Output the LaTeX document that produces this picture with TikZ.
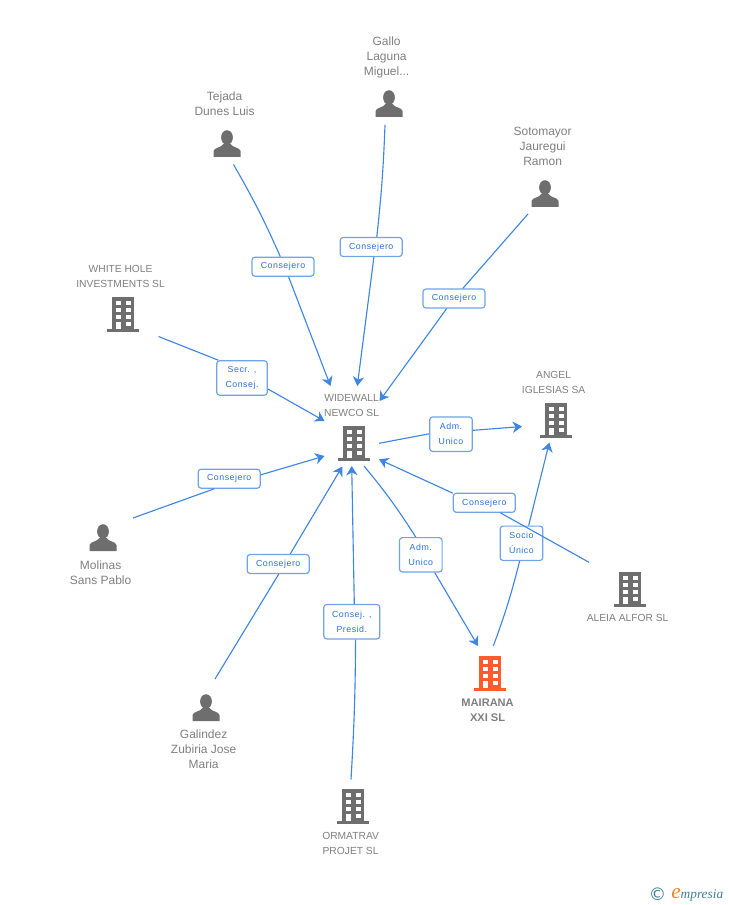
\documentclass[tikz,border=0pt]{standalone}
\usepackage{fontspec}
\setmainfont{Liberation Sans}
\newfontfamily\lblfont[LetterSpace=6]{Liberation Sans}
\newfontfamily\symfont{DejaVu Sans}
\newfontfamily\logofont{Liberation Serif}
\usetikzlibrary{arrows.meta,positioning}
\definecolor{linkblue}{HTML}{3F85E2}
\definecolor{boxblue}{HTML}{6FA3EA}
\definecolor{textblue}{HTML}{2A72D8}
\definecolor{icongray}{HTML}{6E6E6E}
\definecolor{namegray}{HTML}{7F7F7F}
\definecolor{mainorange}{HTML}{FF5C2E}
\definecolor{logoteal}{HTML}{3F7F96}
\definecolor{logoorange}{HTML}{F58220}

\begin{document}
\begin{tikzpicture}[
    x=0.75pt, y=-0.75pt,
    bldgnode/.style={rectangle, minimum width=24pt, minimum height=26pt, inner sep=0pt},
    persnode/.style={rectangle, minimum width=21pt, minimum height=21pt, inner sep=0pt},
    persname/.style={align=center, text=namegray, inner sep=0pt, xshift=-1.8pt, font=\fontsize{9}{11.25}\selectfont},
    compname/.style={align=center, text=namegray, inner sep=0pt, xshift=-1.8pt, font=\fontsize{7.7}{11.25}\selectfont},
    mainname/.style={align=center, text=namegray, inner sep=0pt, xshift=-1.8pt, font=\bfseries\fontsize{8.3}{11.25}\selectfont},
    rolebox/.style={rectangle, rounded corners=2.2pt, draw=boxblue, line width=0.9pt, fill=white, text=textblue, align=center, inner sep=0pt, minimum height=14.25pt, font=\lblfont\fontsize{6.6}{11.25}\selectfont},
    onerole/.style={rolebox, minimum width=46.5pt},
    tworole/.style={rolebox, minimum width=32pt, minimum height=25.8pt},
    link/.style={draw=linkblue, line width=0.85pt},
    arrow/.style={link, -{Stealth[length=7pt,width=8.5pt,inset=2.2pt]}},
    bldg/.pic={
        \fill[#1] (-11,-17) rectangle (11,16);
        \fill[#1] (-16,15) rectangle (16,18);
        \fill[white] (-7.5,-13) rectangle (-2.5,-9);
        \fill[white] (2.5,-13) rectangle (7.5,-9);
        \fill[white] (-7.5,-6) rectangle (-2.5,-2);
        \fill[white] (2.5,-6) rectangle (7.5,-2);
        \fill[white] (-7.5,1) rectangle (-2.5,5);
        \fill[white] (2.5,1) rectangle (7.5,5);
        \fill[white] (-7,8) rectangle (-2.5,15);
        \fill[white] (2.5,8) rectangle (7.5,12);
    },
    pers/.pic={
        \fill[icongray] (0,-6.5) ellipse (5.9 and 7.3);
        \fill[icongray] (-13.5,13) -- (-13.5,7) .. controls (-13,3.5) and (-5,3.5) .. (-3.5,0) -- (3.5,0) .. controls (5,3.5) and (13,3.5) .. (13.5,7) -- (13.5,13) -- cycle;
    }
]
\useasboundingbox (0,0) rectangle (728,905);

% Centre company
\node[bldgnode] (widewall) at (354,443) {};
\pic at (widewall) {bldg=icongray};
\node[compname, above=6.5pt of widewall] (widewalltext) {WIDEWALL\\NEWCO SL};

% Main company
\node[bldgnode] (mairana) at (490,673) {};
\pic at (mairana) {bldg=mainorange};
\node[mainname, below=5.7pt of mairana] (mairanatext) {MAIRANA\\XXI SL};

% Other companies
\node[bldgnode] (whitehole) at (123,314) {};
\pic at (whitehole) {bldg=icongray};
\node[compname, above=6.7pt of whitehole] (whiteholetext) {WHITE HOLE\\INVESTMENTS SL};

\node[bldgnode] (angel) at (556,420) {};
\pic at (angel) {bldg=icongray};
\node[compname, above=6.3pt of angel] (angeltext) {ANGEL\\IGLESIAS SA};

\node[bldgnode] (aleia) at (630,589) {};
\pic at (aleia) {bldg=icongray};
\node[compname, below=5.7pt of aleia] (aleiatext) {ALEIA ALFOR SL};

\node[bldgnode] (ormatrav) at (353,806) {};
\pic at (ormatrav) {bldg=icongray};
\node[compname, below=6.5pt of ormatrav] (ormatravtext) {ORMATRAV\\PROJET SL};

% People
\node[persnode] (gallo) at (389,104) {};
\pic at (gallo) {pers};
\node[persname, above=8.5pt of gallo] (gallotext) {Gallo\\Laguna\\Miguel...};

\node[persnode] (tejada) at (227,144) {};
\pic at (tejada) {pers};
\node[persname, above=10.7pt of tejada] (tejadatext) {Tejada\\Dunes Luis};

\node[persnode] (sotomayor) at (545,194) {};
\pic at (sotomayor) {pers};
\node[persname, above=10.7pt of sotomayor] (sotomayortext) {Sotomayor\\Jauregui\\Ramon};

\node[persnode] (molinas) at (103,538) {};
\pic at (molinas) {pers};
\node[persname, below=6.2pt of molinas] (molinastext) {Molinas\\Sans Pablo};

\node[persnode] (galindez) at (206,708) {};
\pic at (galindez) {pers};
\node[persname, below=5.5pt of galindez] (galindeztext) {Galindez\\Zubiria Jose\\Maria};

% Roles
\node[onerole] (rolegallo) at (371.2,247) {Consejero};
\node[onerole] (roletejada) at (283,266.7) {Consejero};
\node[onerole] (rolesoto) at (454,298.5) {Consejero};
\node[tworole, minimum width=38pt] (rolewhite) at (242,378) {Secr. ,\\Consej.};
\node[onerole] (rolemolinas) at (229.2,478.7) {Consejero};
\node[onerole] (rolegalindez) at (278.2,564) {Consejero};
\node[tworole, minimum width=42pt] (roleorma) at (351.8,621.7) {Consej. ,\\Presid.};
\node[tworole] (roleangel) at (451,434.2) {Adm.\\Unico};
\node[tworole] (rolemairana) at (420.8,554.8) {Adm.\\Unico};
\node[tworole] (rolesocio) at (521.5,543.3) {Socio\\Único};
\node[onerole] (rolealeia) at (484.3,502.8) {Consejero};

% Free ends
\coordinate (galloout) at (385,125);
\coordinate (galloin) at (357.3,386);
\coordinate (tejadaout) at (233.5,164.5);
\coordinate (tejadain) at (330.5,386);
\coordinate (sotoout) at (528,214);
\coordinate (sotoin) at (379.5,401);
\coordinate (whiteout) at (158.5,336.5);
\coordinate (whitein) at (324.5,421);
\coordinate (molinasout) at (133,518);
\coordinate (molinasin) at (324.5,456);
\coordinate (galindezout) at (215,679);
\coordinate (galindezin) at (342.3,466.5);
\coordinate (ormaout) at (351,779.5);
\coordinate (ormain) at (351.7,466);
\coordinate (angelout) at (379,443.3);
\coordinate (angelin) at (522,426.5);
\coordinate (mairanaout) at (364,466);
\coordinate (mairanain) at (478,646);
\coordinate (socioout) at (493.3,646);
\coordinate (socioin) at (549.3,442.5);
\coordinate (aleiaout) at (589,562.3);
\coordinate (aleiain) at (379,459.3);

% Arrows
\draw[link] (galloout) to[bend left=2] (rolegallo.61);
\draw[arrow] (rolegallo.-75) -- (galloin);
\draw[link] (tejadaout) to[bend left=3] (roletejada.105);
\draw[arrow] (roletejada.-61) -- (tejadain);
\draw[link] (sotoout) -- (rolesoto);
\draw[arrow] (rolesoto) -- (sotoin);
\draw[link] (whiteout) -- (rolewhite.143);
\draw[arrow] (rolewhite.-23) -- (whitein);
\draw[link] (molinasout) -- (rolemolinas.214);
\draw[arrow] (rolemolinas.7) -- (molinasin);
\draw[link] (galindezout) -- (rolegalindez.-87);
\draw[arrow] (rolegalindez.40) -- (galindezin);
\draw[link] (ormaout) to[bend right=1.5] (roleorma.-78);
\draw[arrow] (roleorma.82) -- (ormain);
\draw[link] (angelout) -- (roleangel.179);
\draw[arrow] (roleangel.10) -- (angelin);
\draw[link] (mairanaout) to[bend left=3.5] (rolemairana.106);
\draw[arrow] (rolemairana.-52) -- (mairanain);
\draw[link] (socioout) to[bend right=3] (rolesocio.-96);
\draw[arrow] (rolesocio.68) -- (socioin);
\draw[link] (aleiaout) -- (rolealeia.-32);
\draw[arrow] (rolealeia.163) -- (aleiain);

% Logo
\node[text=logoteal, inner sep=0pt, font=\symfont\fontsize{13}{14}\selectfont] (copyright) at (657.5,894) {©};
\node[anchor=base west, inner sep=0pt, text=logoteal, font=\logofont\itshape\fontsize{10}{12}\selectfont] (logo) at (671,898) {{\color{logoorange}\fontsize{16}{12}\selectfont e}mpresia};

\end{tikzpicture}
\end{document}
